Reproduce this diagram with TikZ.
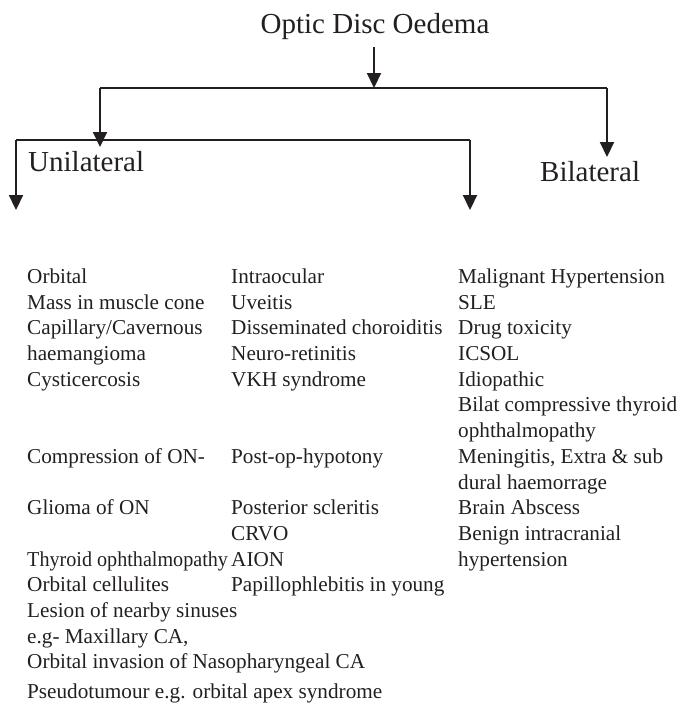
\documentclass[tikz,border=0pt]{standalone}
\usepackage{fontspec}
\setmainfont{Liberation Serif}
\usetikzlibrary{arrows.meta}
\definecolor{ink}{HTML}{231F20}
\begin{document}
\begin{tikzpicture}[x=1pt,y=-1pt,
  body/.style={anchor=base west, inner sep=0pt, text=ink, font=\fontsize{21.2}{25}\selectfont},
  head/.style={anchor=base west, inner sep=0pt, text=ink, font=\fontsize{29}{34}\selectfont},
  ttl/.style={anchor=base, inner sep=0pt, text=ink, font=\fontsize{29}{34}\selectfont},
  arr/.style={draw=ink, line width=2.2pt, -{Triangle[length=15pt,width=14pt]}},
  bar/.style={draw=ink, line width=1.8pt},
  thinbar/.style={draw=ink, line width=1.2pt}]
\useasboundingbox (0,0) rectangle (696,704);

% headings
\node[ttl] (title) at (375,33) {Optic Disc Oedema};
\node[head] (uni) at (28,171) {Unilateral};
\node[head] (bil) at (540,181) {Bilateral};

% connector points
\coordinate (t0) at (374,47);
\coordinate (j1) at (374,88);
\coordinate (l1) at (100,88);
\coordinate (r1) at (607,88);
\coordinate (l1e) at (100,147);
\coordinate (r1e) at (607,157);
\coordinate (l2) at (16,140);
\coordinate (r2) at (470,140);
\coordinate (l2e) at (16,210);
\coordinate (r2e) at (470,210);

\draw[arr] (t0) -- (j1);
\draw[bar] (l1) -- (r1);
\draw[arr] (l1) -- (l1e);
\draw[arr] (r1) -- (r1e);
\draw[thinbar] (l2) -- (r2);
\draw[arr] (l2) -- (l2e);
\draw[arr] (r2) -- (r2e);

% column 1
\node[body] (a0) at (27,283) {Orbital};
\node[body] (a1) at (27,309) {Mass in muscle cone};
\node[body] (a2) at (27,334) {Capillary/Cavernous};
\node[body] (a3) at (27,360) {haemangioma};
\node[body] (a4) at (27,386) {Cysticercosis};
\node[body] (a7) at (27,463) {Compression of ON-};
\node[body] (a9) at (27,514) {Glioma of ON};
\node[body] (a11) at (27,566) {\scalebox{0.95}[1]{Thyroid ophthalmopathy}};
\node[body] (a12) at (27,591) {Orbital cellulites};
\node[body] (a13) at (27,617) {Lesion of nearby sinuses};
\node[body] (a14) at (27,643) {e.g- Maxillary CA,};
\node[body] (a15) at (27,668) {Orbital invasion of Nasopharyngeal CA};
\node[body] (a16) at (27,698) {Pseudotumour e.g. orbital apex syndrome};

% column 2
\node[body] (b0) at (231,283) {Intraocular};
\node[body] (b1) at (231,309) {Uveitis};
\node[body] (b2) at (231,334) {Disseminated choroiditis};
\node[body] (b3) at (231,360) {Neuro-retinitis};
\node[body] (b4) at (231,386) {VKH syndrome};
\node[body] (b7) at (231,463) {Post-op-hypotony};
\node[body] (b9) at (231,514) {Posterior scleritis};
\node[body] (b10) at (231,540) {CRVO};
\node[body] (b11) at (231,566) {AION};
\node[body] (b12) at (231,591) {Papillophlebitis in young};

% column 3
\node[body] (c0) at (458,283) {Malignant Hypertension};
\node[body] (c1) at (458,309) {SLE};
\node[body] (c2) at (458,334) {Drug toxicity};
\node[body] (c3) at (458,360) {ICSOL};
\node[body] (c4) at (458,386) {Idiopathic};
\node[body] (c5) at (458,411) {Bilat compressive thyroid};
\node[body] (c6) at (458,437) {ophthalmopathy};
\node[body] (c7) at (458,463) {Meningitis, Extra \& sub};
\node[body] (c8) at (458,489) {dural haemorrage};
\node[body] (c9) at (458,514) {Brain Abscess};
\node[body] (c10) at (458,540) {Benign intracranial};
\node[body] (c11) at (458,566) {hypertension};
\end{tikzpicture}
\end{document}
